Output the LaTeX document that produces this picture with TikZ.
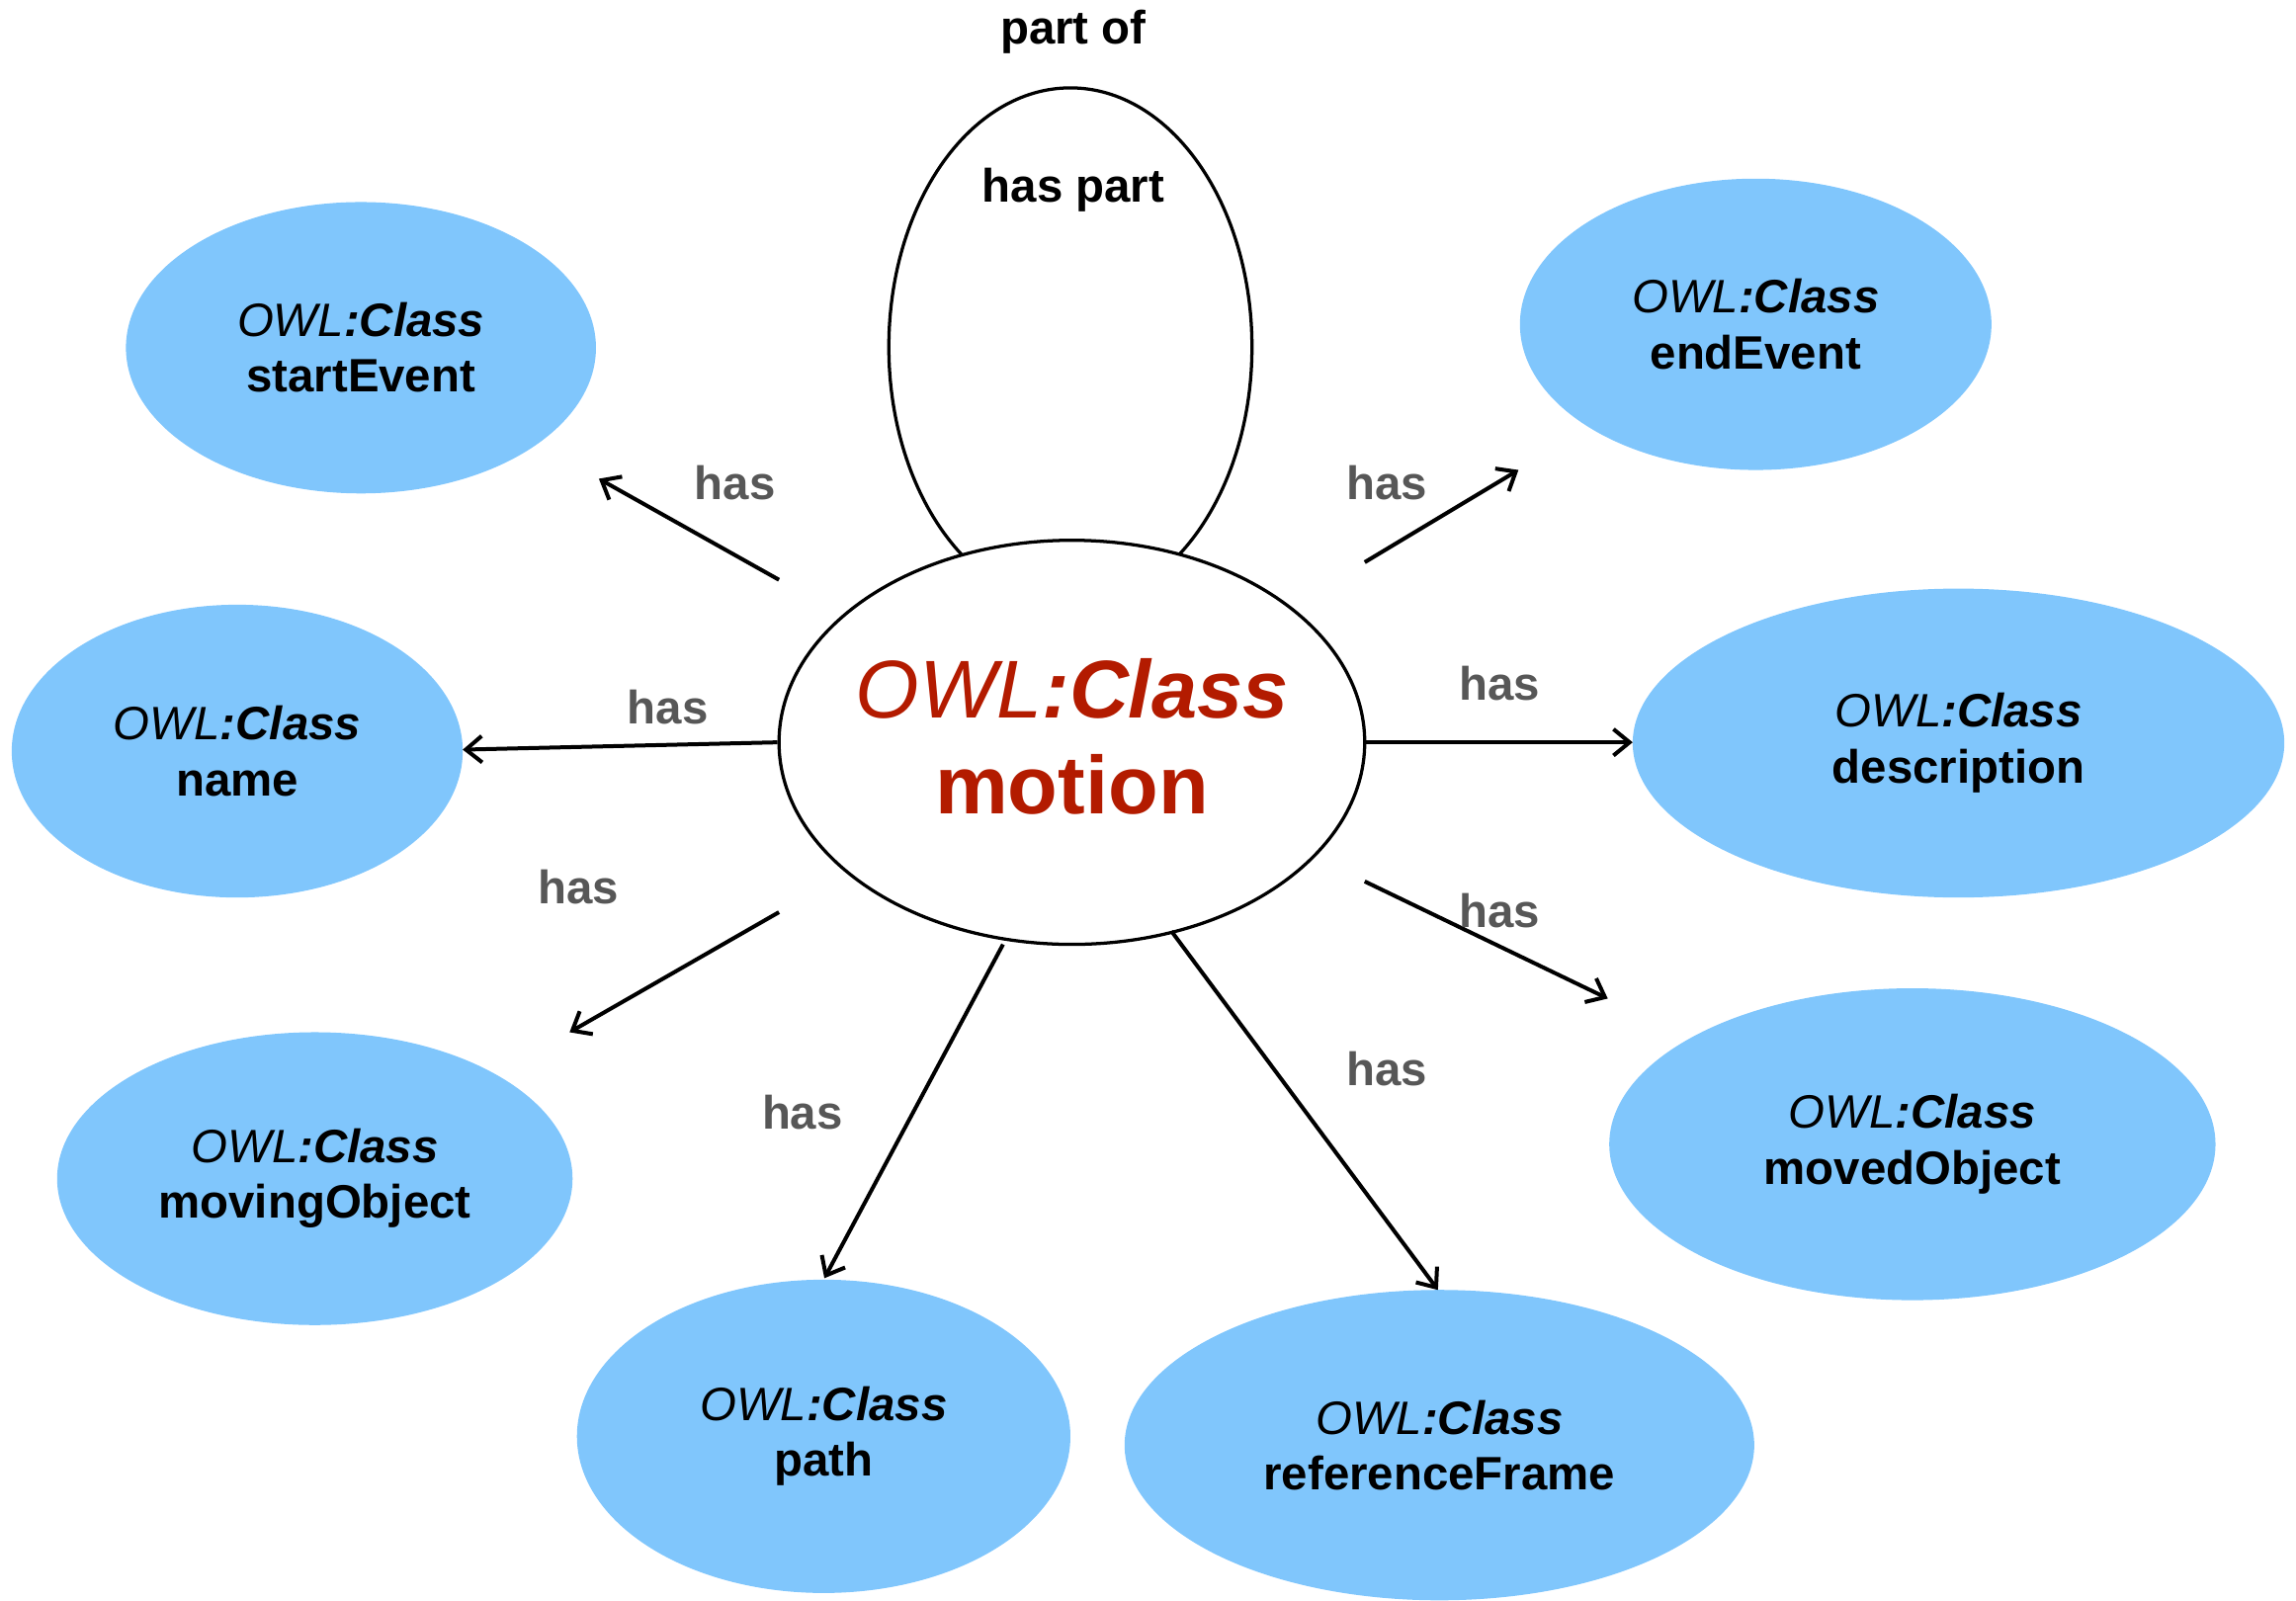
\documentclass[tikz,border=0pt]{standalone}
\usepackage{fontspec}
\setmainfont{Liberation Sans}
\usetikzlibrary{shapes.geometric,arrows.meta}
\definecolor{owlblue}{HTML}{80C6FC}
\definecolor{owlred}{HTML}{B31B00}
\definecolor{hasgrey}{HTML}{575757}
\newcommand{\owlcls}{\textit{OWL}\textbf{\textit{:Class}}}
\begin{document}
\begin{tikzpicture}[x=0.5pt,y=-0.5pt,
  cls/.style={ellipse, fill=owlblue, inner sep=0pt, align=center,
    font=\fontsize{16}{19}\selectfont},
  arr/.style={-{Straight Barb[length=5.5pt,width=9pt]}, line width=1.35pt},
  haslbl/.style={text=hasgrey, inner sep=0pt, font=\fontsize{16}{19}\selectfont\bfseries},
  plain/.style={inner sep=0pt, font=\fontsize{16}{19}\selectfont\bfseries},
  outline/.style={draw, ellipse, line width=1.1pt, inner sep=0pt}]
\useasboundingbox (0,0) rectangle (1568,1093);

% blue class nodes
\node[cls, minimum width=160.5pt, minimum height=99.5pt] (start) at (246.5,237.5) {\owlcls\\\textbf{startEvent}};
\node[cls, minimum width=161pt, minimum height=99.5pt] (end) at (1199,221.5) {\owlcls\\\textbf{endEvent}};
\node[cls, minimum width=154pt, minimum height=100pt] (name) at (162,513) {\owlcls\\\textbf{name}};
\node[cls, minimum width=222.5pt, minimum height=105.5pt] (desc) at (1337.5,507.5) {\owlcls\\\textbf{description}};
\node[cls, minimum width=176pt, minimum height=100pt] (moving) at (215,805) {\owlcls\\\textbf{movingObject}};
\node[cls, minimum width=207pt, minimum height=106.5pt] (moved) at (1306,781.5) {\owlcls\\\textbf{movedObject}};
\node[cls, minimum width=168.5pt, minimum height=107pt] (path) at (562.5,981) {\owlcls\\\textbf{path}};
\node[cls, minimum width=215pt, minimum height=106pt] (ref) at (983,987) {\owlcls\\\textbf{referenceFrame}};

% self loop and centre class
\node[outline, minimum width=124pt, minimum height=177pt] (loop) at (731,237) {};
\node[outline, fill=white, minimum width=200pt, minimum height=138pt] (motion) at (732,507) {};
\node[inner sep=0pt, align=center, text=owlred, font=\fontsize{28}{32.5}\selectfont]
  (motiontxt) at (732,503) {\owlcls\\\textbf{motion}};
\node[plain] (partof) at (733,22) {part of};
\node[plain] (haspart) at (733,130) {has part};

% free ends of the connectors
\coordinate (a1) at (532,396); \coordinate (b1) at (409,327);
\coordinate (a2) at (932,384); \coordinate (b2) at (1037,321);
\coordinate (b3) at (316,512);
\coordinate (b4) at (1115,507);
\coordinate (a5) at (532,623); \coordinate (b5) at (389,705);
\coordinate (a6) at (932,602); \coordinate (b6) at (1098,682);
\coordinate (a7) at (685,645); \coordinate (b7) at (563,873);
\coordinate (a8) at (800,636); \coordinate (b8) at (982,881);

\draw[arr] (a1) -- (b1);
\draw[arr] (a2) -- (b2);
\draw[arr] (motion.west) -- (b3);
\draw[arr] (motion.east) -- (b4);
\draw[arr] (a5) -- (b5);
\draw[arr] (a6) -- (b6);
\draw[arr] (a7) -- (b7);
\draw[arr] (a8) -- (b8);

\node[haslbl] (h1) at (502,330) {has};
\node[haslbl] (h2) at (947,330) {has};
\node[haslbl] (h3) at (456,483) {has};
\node[haslbl] (h4) at (1024,467) {has};
\node[haslbl] (h5) at (395,606) {has};
\node[haslbl] (h6) at (1024,622) {has};
\node[haslbl] (h7) at (548,760) {has};
\node[haslbl] (h8) at (947,730) {has};
\end{tikzpicture}
\end{document}
